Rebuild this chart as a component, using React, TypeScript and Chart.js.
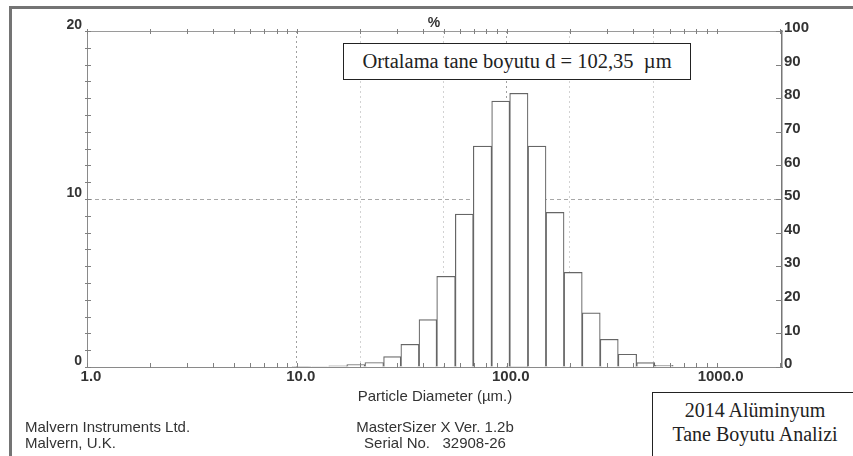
import React, { useEffect, useRef } from "react";
import { Chart, registerables } from "chart.js";

Chart.register(...registerables);

const binEdges = [9.5, 11.6, 14.2, 17.3, 21.1, 25.9, 31.3, 38.2, 46.4, 56.9, 69.3, 84.8, 103.3, 126.3, 153.9, 187.6, 229, 279, 340, 416, 508, 621];
const volumePercent = [0.01, 0.03, 0.07, 0.15, 0.27, 0.62, 1.35, 2.82, 5.4, 9.1, 13.15, 15.83, 16.29, 13.15, 9.2, 5.63, 3.22, 1.65, 0.76, 0.26, 0.1];

const xTickValues = [1, 2, 5, 10, 20, 50, 100, 200, 500, 1000];
const xLabelValues = [1, 10, 100, 1000];
const xMajorGrid = [10, 100];
const xMinorGrid = [20, 50, 200, 500];
const xMin = 1;
const xMax = 2050;
const leftMax = 20;
const rightMax = 100;

const SANS = "'Liberation Sans', Arial, sans-serif";
const SERIF = "'Liberation Serif', 'Times New Roman', serif";

const histogramPlugin = {
  id: "histogramBins",
  afterDatasetsUpdate(chart: any) {
    const xs = chart.scales.x;
    const meta = chart.getDatasetMeta(0);
    meta.data.forEach((el: any, i: number) => {
      const l = xs.getPixelForValue(binEdges[i]);
      const r = xs.getPixelForValue(binEdges[i + 1]);
      el.x = (l + r) / 2;
      el.width = r - l;
    });
  },
};

const minorTicksPlugin = {
  id: "minorTicks",
  afterDraw(chart: any) {
    const { ctx, chartArea } = chart;
    const xs = chart.scales.x;
    const ys = chart.scales.y;
    const y2 = chart.scales.y2;
    ctx.save();
    ctx.strokeStyle = "#808080";
    ctx.lineWidth = 1;
    ctx.beginPath();
    for (let v = 0; v <= leftMax; v += 1) {
      const y = Math.round(ys.getPixelForValue(v)) + 0.5;
      ctx.moveTo(chartArea.left - 2, y);
      ctx.lineTo(chartArea.left + 4, y);
    }
    for (let v = 0; v <= rightMax; v += 10) {
      const y = Math.round(y2.getPixelForValue(v)) + 0.5;
      ctx.moveTo(chartArea.right - 6, y);
      ctx.lineTo(chartArea.right, y);
    }
    for (let k = 0; k <= 3; k++) {
      for (let n = 1; n <= 9; n++) {
        const v = n * Math.pow(10, k);
        if (v > xMax) continue;
        const x = Math.round(xs.getPixelForValue(v)) + 0.5;
        ctx.moveTo(x, chartArea.top - 2);
        ctx.lineTo(x, chartArea.top + 3);
        ctx.moveTo(x, chartArea.bottom - 4);
        ctx.lineTo(x, chartArea.bottom + 1);
      }
    }
    ctx.stroke();
    ctx.restore();
  },
};

export default function App() {
  const canvasRef = useRef<HTMLCanvasElement | null>(null);

  useEffect(() => {
    if (!canvasRef.current) return;
    const data = binEdges.slice(0, -1).map((lo, i) => ({
      x: Math.sqrt(lo * binEdges[i + 1]),
      y: volumePercent[i],
    }));
    const chart = new Chart(canvasRef.current, {
      type: "bar",
      data: {
        datasets: [
          {
            data,
            backgroundColor: "#ffffff",
            borderColor: "#666666",
            borderWidth: 1.2,
            borderSkipped: "bottom",
            barPercentage: 1,
            categoryPercentage: 1,
            xAxisID: "x",
            yAxisID: "y",
          } as any,
        ],
      },
      options: {
        animation: false,
        responsive: false,
        devicePixelRatio: 1,
        layout: { padding: { left: 47, right: 41, top: 31, bottom: 69 } },
        plugins: { legend: { display: false }, tooltip: { enabled: false } },
        scales: {
          x: {
            type: "logarithmic",
            position: "bottom",
            offset: false,
            min: xMin,
            max: xMax,
            afterBuildTicks: (s: any) => {
              s.ticks = xTickValues.map((v) => ({ value: v }));
            },
            afterFit: (s: any) => {
              s.height = 20;
            },
            ticks: {
              autoSkip: false,
              maxRotation: 0,
              padding: 2,
              labelOffset: 4,
              color: "#333",
              font: { family: SANS, size: 15, weight: "bold", lineHeight: 1 },
              callback: (v: any) => (xLabelValues.includes(Number(v)) ? Number(v).toFixed(1) : ""),
            },
            grid: {
              offset: false,
              drawTicks: false,
              lineWidth: 1,
              color: (c: any) => {
                const v = c.tick && c.tick.value;
                if (xMajorGrid.includes(v)) return "#a0a0a0";
                if (xMinorGrid.includes(v)) return "#d2d2d2";
                return "rgba(0,0,0,0)";
              },
            },
            border: { color: "#8a8a8a", width: 1, dash: [2, 3] },
          } as any,
          xTop: {
            type: "logarithmic",
            position: "top",
            offset: false,
            min: xMin,
            max: xMax,
            afterFit: (s: any) => {
              s.height = 0;
            },
            ticks: { display: false },
            grid: { display: false, drawTicks: false, offset: false },
            border: { color: "#9a9a9a", width: 1 },
          } as any,
          y: {
            type: "linear",
            position: "left",
            min: 0,
            max: leftMax,
            afterFit: (s: any) => {
              s.width = 40;
            },
            ticks: {
              stepSize: 10,
              padding: 5,
              labelOffset: -6,
              color: "#333",
              font: { family: SANS, size: 14, weight: "bold" },
            },
            grid: {
              drawTicks: false,
              color: (c: any) => (c.tick && c.tick.value === 10 ? "#a8a8a8" : "rgba(0,0,0,0)"),
            },
            border: { color: "#8a8a8a", width: 1, dash: [4, 3] },
          } as any,
          y2: {
            type: "linear",
            position: "right",
            min: 0,
            max: rightMax,
            afterFit: (s: any) => {
              s.width = 30;
            },
            ticks: {
              stepSize: 10,
              padding: 2,
              labelOffset: -3,
              color: "#333",
              font: { family: SANS, size: 15, weight: "bold" },
            },
            grid: { display: false, drawTicks: false },
            border: { color: "#777", width: 1.5 },
          } as any,
        },
      },
      plugins: [histogramPlugin, minorTicksPlugin],
    });
    return () => chart.destroy();
  }, []);

  const abs = (s: React.CSSProperties): React.CSSProperties => ({ position: "absolute", ...s });

  return (
    <div style={{ position: "fixed", left: 0, top: 0, width: 853, height: 456, background: "#fff", overflow: "hidden" }}>
      <canvas ref={canvasRef} width={853} height={456} style={{ position: "absolute", left: 0, top: 0, width: 853, height: 456 }} />
      {/* frame */}
      <div style={abs({ left: 9, top: 6, width: 844, height: 2.5, background: "#747474" })} />
      <div style={abs({ left: 9, top: 6, width: 2.5, height: 450, background: "#747474" })} />
      {/* % label */}
      <div style={abs({ left: 414, top: 15, width: 40, textAlign: "center", font: `bold 14px ${SANS}`, lineHeight: "14px", color: "#333" })}>%</div>
      {/* mean size box */}
      <div
        style={abs({
          left: 343,
          top: 43,
          width: 348,
          height: 37,
          boxSizing: "border-box",
          border: "1.5px solid #222",
          display: "flex",
          alignItems: "center",
          justifyContent: "center",
          font: `20.5px ${SERIF}`,
          color: "#222",
          whiteSpace: "pre",
          background: "#fff",
        })}
      >
        {"Ortalama tane boyutu d = 102,35  µm"}
      </div>
      {/* axis title */}
      <div style={abs({ left: 335, top: 388, width: 200, textAlign: "center", font: `15px ${SANS}`, lineHeight: "15px", color: "#333" })}>
        Particle Diameter (µm.)
      </div>
      {/* footer */}
      <div style={abs({ left: 25, top: 419, font: `15px ${SANS}`, lineHeight: "16px", color: "#333", whiteSpace: "pre" })}>
        {"Malvern Instruments Ltd.\nMalvern, U.K."}
      </div>
      <div style={abs({ left: 335, top: 419, width: 200, textAlign: "center", font: `15px ${SANS}`, lineHeight: "16px", color: "#333", whiteSpace: "pre" })}>
        {"MasterSizer X Ver. 1.2b\nSerial No.   32908-26"}
      </div>
      {/* title box */}
      <div
        style={abs({
          left: 652,
          top: 392,
          width: 206,
          height: 80,
          boxSizing: "border-box",
          border: "1.5px solid #222",
          background: "#fff",
          font: `20px ${SERIF}`,
          color: "#222",
          textAlign: "center",
          lineHeight: "23.5px",
          paddingTop: 6,
        })}
      >
        2014 Alüminyum
        <br />
        Tane Boyutu Analizi
      </div>
    </div>
  );
}
